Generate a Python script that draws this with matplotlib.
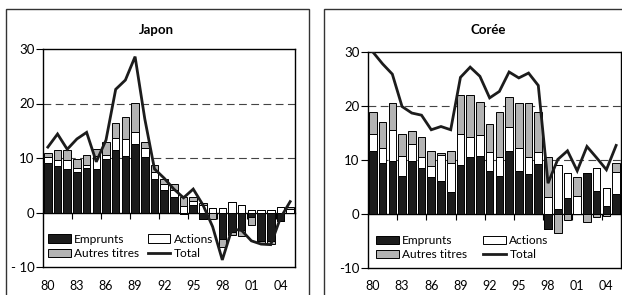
import matplotlib
matplotlib.use("Agg")
import matplotlib.pyplot as plt
from matplotlib.patches import Patch, Rectangle
from matplotlib.lines import Line2D
import numpy as np

plt.rcParams['font.family'] = ['Lato', 'DejaVu Sans']

years = list(range(1980, 2006))
tick_labels = ['80', '83', '86', '89', '92', '95', '98', '01', '04']

# Japon
emprunts_jp = [9.0, 8.5, 7.9, 7.5, 8.2, 7.9, 9.8, 11.4, 10.3, 12.5, 10.2, 6.1, 4.1,
               2.8, -0.3, 1.3, -1.2, 0.0, -4.8, -3.6, -3.3, -0.8, -5.3, -5.3, -1.5, 0.0]
actions_jp = [1.2, 1.1, 1.8, 0.7, 0.6, 2.4, 0.7, 2.3, 3.2, 2.3, 1.7, 1.4, 1.1,
              1.3, 1.25, 0.9, 1.3, 0.9, 0.8, 1.9, 1.4, 0.5, 0.5, 0.5, 1.0, 0.6]
autres_jp = [0.8, 1.8, 1.7, 1.7, 1.7, 1.4, 2.4, 2.8, 4.1, 5.2, 1.1, 1.2, 1.0,
             1.2, 1.55, 0.7, 0.5, -1.2, -1.6, -0.6, -1.1, -1.5, -0.3, -0.4, 0.0, 0.4]
total_jp = [12.0, 14.4, 11.6, 13.5, 14.7, 9.3, 13.3, 22.6, 24.3, 28.6, 17.2, 8.0, 6.3,
            4.3, 2.7, 4.3, 1.4, -2.6, -8.7, -3.0, -3.3, -5.2, -5.8, -5.9, -1.0, 2.0]

# Corée
emprunts_kr = [11.6, 9.4, 9.9, 7.0, 9.75, 8.6, 6.8, 6.2, 4.0, 9.0, 10.5, 10.8, 8.0,
               7.0, 11.6, 8.0, 7.4, 9.3, -2.8, 1.0, 3.0, 0.0, 7.6, 4.3, 1.5, 3.7]
actions_kr = [3.2, 2.9, 5.7, 3.7, 3.25, 1.9, 2.0, 4.8, 5.4, 5.8, 3.7, 3.9, 3.5,
              3.5, 4.6, 4.2, 3.1, 2.2, 3.1, 8.0, 4.6, 3.4, 0.0, 4.3, 3.4, 4.1]
autres_kr = [4.1, 4.7, 5.0, 4.1, 2.3, 3.7, 2.8, 0.3, 2.3, 7.3, 7.9, 6.0, 5.2,
             8.4, 5.4, 8.4, 10.1, 7.4, 7.4, -3.5, -1.2, 3.5, -1.5, -0.6, -0.4, 1.6]
total_kr = [30.0, 27.8, 25.9, 19.9, 18.7, 18.3, 15.6, 16.2, 15.6, 25.3, 27.2, 25.5, 21.5,
            22.7, 26.3, 25.2, 26.1, 23.8, 5.7, 10.1, 11.7, 8.0, 12.5, 10.4, 8.2, 12.7]

BLACK = '#1c1c1c'
GRAY = '#b3b3b3'
WHITE = '#ffffff'

fig = plt.figure(figsize=(6.22, 2.95), dpi=100)


def panel(rect, title, title_x, emp, act, aut, tot, neg_label, legend_x, colsp):
    ax = fig.add_axes(rect)
    x = np.arange(len(years))
    series = [(emp, BLACK), (act, WHITE), (aut, GRAY)]
    pos_base = np.zeros(len(x))
    neg_base = np.zeros(len(x))
    for vals, col in series:
        v = np.array(vals, dtype=float)
        p = np.where(v > 0, v, 0)
        n = np.where(v < 0, v, 0)
        ax.bar(x, p, bottom=pos_base, width=0.78, color=col, edgecolor='black',
               linewidth=0.7, zorder=3)
        ax.bar(x, n, bottom=neg_base, width=0.78, color=col, edgecolor='black',
               linewidth=0.7, zorder=3)
        pos_base += p
        neg_base += n
    ax.plot(x, tot, color=BLACK, lw=2.0, zorder=4, solid_joinstyle='miter')
    ax.set_xlim(-0.5, len(years) - 0.5)
    ax.set_ylim(-10, 30)
    for g in (10, 20):
        ax.axhline(g, color='#444444', lw=0.8, dashes=(7, 4), zorder=1)
    ax.set_yticks([-10, 0, 10, 20, 30])
    ax.set_yticklabels([neg_label, '0', '10', '20', '30'], fontsize=9.5)
    ax.tick_params(axis='y', direction='out', length=5, width=0.8, pad=1)
    ax.set_xticks(x[::3])
    ax.set_xticklabels(tick_labels, fontsize=9)
    ax.tick_params(axis='x', length=0, pad=9)
    for s in ax.spines.values():
        s.set_linewidth(1.0)
    # zero axis with ticks at group boundaries
    sec = ax.secondary_xaxis(0.25)
    sec.set_xticks(np.arange(2.5, len(years) - 1, 3))
    sec.set_xticklabels([])
    sec.tick_params(axis='x', direction='out', length=4, width=0.8)
    sec.spines['bottom'].set_linewidth(1.0)
    handles = [Patch(facecolor=BLACK, edgecolor='black', lw=0.7),
               Patch(facecolor=GRAY, edgecolor='black', lw=0.7),
               Patch(facecolor=WHITE, edgecolor='black', lw=0.7),
               Line2D([], [], color=BLACK, lw=2)]
    labels = ['Emprunts', 'Autres titres', 'Actions', 'Total']
    ax.legend(handles, labels, ncol=2, loc='center left',
              bbox_to_anchor=(legend_x, 0.094), frameon=False, fontsize=8.6,
              borderpad=0, borderaxespad=0, handlelength=1.9, handleheight=0.7,
              handletextpad=0.3, columnspacing=colsp, labelspacing=0.3)
    fig.text(title_x / 622, 1 - 30 / 295, title, ha='center', va='center',
             fontsize=9.5, fontweight='bold')
    return ax


panel([43 / 622, 28 / 295, 252 / 622, 218 / 295], 'Japon', 156,
      emprunts_jp, actions_jp, autres_jp, total_jp, '- 10', 0.02, 0.7)
panel([368 / 622, 27 / 295, 253 / 622, 216 / 295], 'Corée', 488,
      emprunts_kr, actions_kr, autres_kr, total_kr, '-10', 0.032, 1.3)

fig.patches.append(Rectangle((6 / 622, -0.1), 303 / 622, 1.1 - 9 / 295, fill=False,
                             edgecolor='#333333', lw=1.0, transform=fig.transFigure))
fig.patches.append(Rectangle((324 / 622, -0.1), 0.5, 1.1 - 9 / 295, fill=False,
                             edgecolor='#333333', lw=1.0, transform=fig.transFigure))

fig.savefig('out.png', dpi=100)
